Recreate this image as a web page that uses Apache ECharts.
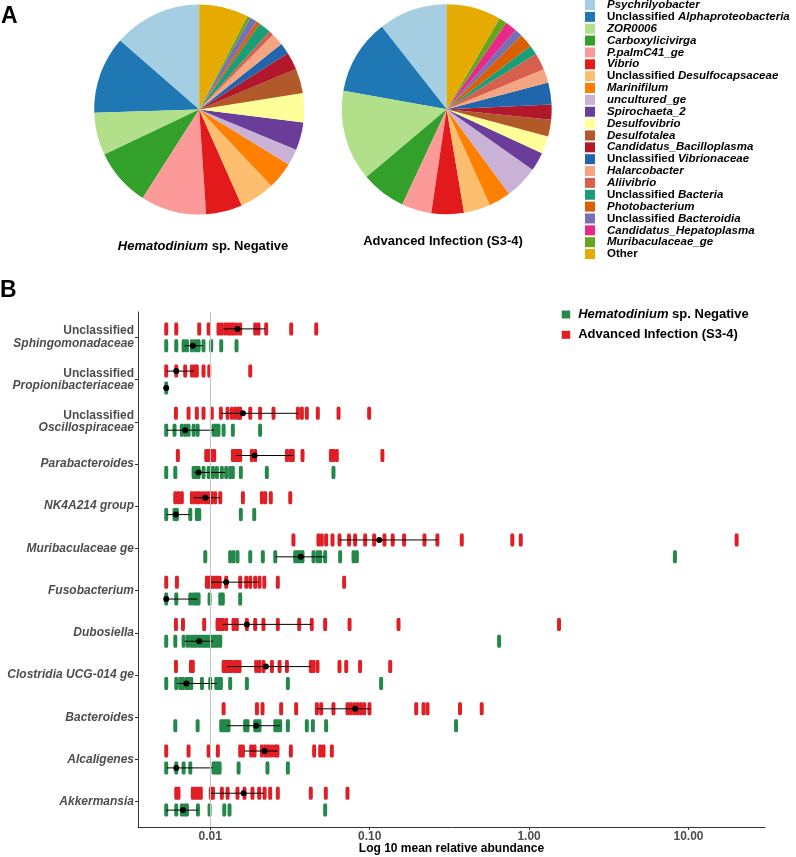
<!DOCTYPE html>
<html>
<head>
<meta charset="utf-8">
<script src="https://cdn.jsdelivr.net/npm/echarts@6/dist/echarts.min.js"></script>
<style>
  html, body { margin: 0; padding: 0; background: #fff; }
  #chart { width: 796px; height: 857px; }
</style>
</head>
<body>
<div id="chart"></div>
<script>
// ---- panel A: genus composition (percent of reads) ----
const taxa = [
  "Psychrilyobacter", "Unclassified Alphaproteobacteria", "ZOR0006", "Carboxylicivirga",
  "P.palmC41_ge", "Vibrio", "Unclassified Desulfocapsaceae", "Marinifilum",
  "uncultured_ge", "Spirochaeta_2", "Desulfovibrio", "Desulfotalea",
  "Candidatus_Bacilloplasma", "Unclassified Vibrionaceae", "Halarcobacter", "Aliivibrio",
  "Unclassified Bacteria", "Photobacterium", "Unclassified Bacteroidia",
  "Candidatus_Hepatoplasma", "Muribaculaceae_ge", "Other"
];
const taxaColors = [
  "#A6CEE3", "#1F78B4", "#B2DF8A", "#33A02C", "#FB9A99", "#E31A1C", "#FDBF6F", "#FF7F00",
  "#CAB2D6", "#6A3D9A", "#FFFF99", "#B15928", "#B2182B", "#2166AC", "#F4A582", "#D6604D",
  "#1B9E77", "#D95F02", "#7570B3", "#E7298A", "#66A61E", "#E6AB02"
];
const negativeShare = [13.6, 11.9, 6.6, 8.9, 10.1, 5.6, 5.4, 4.2, 2.5, 4.3, 4.5, 3.8,
  2.7, 1.7, 1.9, 0.7, 1.9, 0.6, 1.1, 0, 0.5, 7.6];
const advancedShare = [10.6, 11.6, 14.0, 6.9, 4.6, 5.0, 4.1, 3.4, 5.1, 2.9, 2.7, 2.6,
  2.3, 3.4, 2.1, 2.6, 1.5, 2.1, 1.2, 1.8, 1.2, 8.4];

// ---- panel B: log10 mean relative abundance per sample ----
const categories = [
  "Unclassified Sphingomonadaceae", "Unclassified Propionibacteriaceae",
  "Unclassified Oscillospiraceae", "Parabacteroides", "NK4A214 group",
  "Muribaculaceae ge", "Fusobacterium", "Dubosiella", "Clostridia UCG-014 ge",
  "Bacteroides", "Alcaligenes", "Akkermansia"
];

const sphingomonadaceaeAdv = [-2.276, -2.213, -2.069, -2.010, -1.948, -1.927, -1.906, -1.885, -1.870, -1.854, -1.833, -1.812, -1.718, -1.697, -1.649, -1.492, -1.335];
const sphingomonadaceaeNeg = [-2.276, -2.213, -2.167, -2.146, -2.115, -2.094, -2.073, -2.042, -1.994, -1.931, -1.835];
const propionibacteriaceaeAdv = [-2.276, -2.213, -2.157, -2.115, -2.098, -2.084, -2.042, -2.006, -1.749];
const propionibacteriaceaeNeg = [-2.276];
const oscillospiraceaeAdv = [-2.215, -2.136, -2.084, -2.042, -1.990, -1.933, -1.891, -1.864, -1.843, -1.822, -1.812, -1.749, -1.687, -1.603, -1.450, -1.425, -1.394, -1.325, -1.195, -1.003];
const oscillospiraceaeNeg = [-2.276, -2.224, -2.178, -2.157, -2.136, -2.104, -2.079, -1.979, -1.962, -1.948, -1.916, -1.858, -1.687];
const parabacteroidesAdv = [-2.203, -2.025, -2.010, -1.990, -1.975, -1.858, -1.843, -1.827, -1.812, -1.739, -1.718, -1.519, -1.498, -1.482, -1.421, -1.243, -1.227, -1.206, -0.920];
const parabacteroidesNeg = [-2.276, -2.219, -2.104, -2.088, -2.073, -2.042, -2.010, -1.983, -1.958, -1.927, -1.900, -1.875, -1.858, -1.808, -1.645, -1.227];
const nk4a214Adv = [-2.219, -2.199, -2.178, -2.115, -2.094, -2.073, -2.052, -2.031, -2.010, -1.990, -1.969, -1.937, -1.795, -1.676, -1.655, -1.620, -1.498];
const nk4a214Neg = [-2.276, -2.224, -2.209, -2.125, -2.084, -2.069, -1.808, -1.724];
const muribaculaceaeAdv = [-1.478, -1.321, -1.300, -1.273, -1.233, -1.189, -1.129, -1.091, -1.028, -0.972, -0.907, -0.855, -0.784, -0.656, -0.575, -0.422, -0.105, -0.052, 1.302];
const muribaculaceaeNeg = [-2.031, -1.875, -1.854, -1.829, -1.749, -1.670, -1.592, -1.467, -1.452, -1.436, -1.421, -1.352, -1.327, -1.310, -1.279, -1.185, -1.101, -1.080, 0.915];
const fusobacteriumAdv = [-2.276, -2.209, -2.021, -2.004, -1.990, -1.975, -1.958, -1.941, -1.900, -1.812, -1.774, -1.749, -1.718, -1.691, -1.661, -1.576, -1.160];
const fusobacteriumNeg = [-2.276, -2.213, -2.125, -2.104, -2.088, -2.073, -2.004, -1.937, -1.921, -1.812];
const dubosiellaAdv = [-2.215, -2.171, -2.038, -1.954, -1.937, -1.921, -1.900, -1.854, -1.833, -1.770, -1.718, -1.666, -1.576, -1.442, -1.363, -1.279, -1.126, -0.819, 0.188];
const dubosiellaNeg = [-2.276, -2.219, -2.167, -2.142, -2.121, -2.104, -2.088, -2.069, -2.052, -2.036, -2.021, -2.004, -1.987, -1.971, -1.954, -1.937, -0.188];
const clostridiaAdv = [-2.215, -2.121, -2.109, -1.916, -1.900, -1.885, -1.870, -1.850, -1.833, -1.816, -1.712, -1.691, -1.666, -1.613, -1.565, -1.519, -1.369, -1.352, -1.327, -1.189, -1.147, -1.060, -0.871];
const clostridiaNeg = [-2.276, -2.213, -2.188, -2.171, -2.150, -2.136, -2.119, -2.052, -2.000, -1.962, -1.946, -1.933, -1.875, -1.770, -1.513, -0.928];
const bacteroidesAdv = [-1.916, -1.707, -1.672, -1.555, -1.461, -1.331, -1.304, -1.227, -1.139, -1.118, -1.097, -1.076, -1.055, -1.034, -1.001, -0.708, -0.662, -0.637, -0.433, -0.297];
const bacteroidesNeg = [-2.219, -2.079, -1.931, -1.916, -1.900, -1.885, -1.781, -1.766, -1.718, -1.703, -1.691, -1.592, -1.578, -1.561, -1.513, -1.394, -1.356, -1.273, -0.458];
const alcaligenesAdv = [-2.276, -2.136, -2.010, -1.952, -1.812, -1.795, -1.743, -1.722, -1.676, -1.655, -1.634, -1.613, -1.592, -1.578, -1.494, -1.348, -1.310, -1.289, -1.237];
const alcaligenesNeg = [-2.276, -2.213, -2.167, -2.125, -1.979, -1.967, -1.954, -1.941, -1.822, -1.641, -1.513];
const akkermansiaAdv = [-2.213, -2.199, -2.109, -2.092, -2.075, -2.059, -1.996, -1.983, -1.927, -1.891, -1.829, -1.785, -1.735, -1.693, -1.659, -1.624, -1.576, -1.369, -1.275, -1.139];
const akkermansiaNeg = [-2.276, -2.213, -2.178, -2.161, -2.146, -2.077, -2.004, -1.912, -1.879, -1.279];

// summary dot + bar per category (same order as categories)
const advCenter = [-1.829, -2.213, -1.795, -1.722, -2.031, -0.940, -1.900, -1.770, -1.651, -1.091, -1.659, -1.791];
const advLow = [-1.916, -2.272, -1.933, -1.837, -2.104, -1.189, -1.996, -1.921, -1.891, -1.331, -1.787, -2.000];
const advHigh = [-1.655, -2.104, -1.450, -1.478, -1.937, -0.575, -1.697, -1.363, -1.369, -0.997, -1.578, -1.666];
const negCenter = [-2.109, -2.276, -2.157, -2.073, -2.215, -1.432, -2.276, -2.069, -2.150, -1.712, -2.213, -2.171];
const negLow = [-2.161, -2.276, -2.272, -2.098, -2.272, -1.592, -2.276, -2.161, -2.209, -1.896, -2.272, -2.276];
const negHigh = [-2.048, -2.276, -1.975, -1.906, -2.130, -1.279, -2.079, -1.983, -1.958, -1.561, -1.983, -2.077];

const xTicks = [-2, -1, 0, 1];

const advRows = [sphingomonadaceaeAdv, propionibacteriaceaeAdv, oscillospiraceaeAdv, parabacteroidesAdv,
  nk4a214Adv, muribaculaceaeAdv, fusobacteriumAdv, dubosiellaAdv, clostridiaAdv, bacteroidesAdv,
  alcaligenesAdv, akkermansiaAdv];
const negRows = [sphingomonadaceaeNeg, propionibacteriaceaeNeg, oscillospiraceaeNeg, parabacteroidesNeg,
  nk4a214Neg, muribaculaceaeNeg, fusobacteriumNeg, dubosiellaNeg, clostridiaNeg, bacteroidesNeg,
  alcaligenesNeg, akkermansiaNeg];

const FONT = "Liberation Sans, Arial, Helvetica, sans-serif";
const RED = "#DF1F25";
const GREEN = "#24884A";
const OFF = 0.2; // red row above, green row below the category line

// rich label helpers
function taxonLabel(name) {
  if (name === "Other") return "{n|Other}";
  if (name.startsWith("Unclassified ")) return "{n|Unclassified }{i|" + name.slice(13) + "}";
  return "{i|" + name + "}";
}
function yLabel(name) {
  if (name.startsWith("Unclassified ")) return "{n|Unclassified}\n{i|" + name.slice(13) + "}";
  return "{i|" + name + "}";
}

const points = (rows, dy) => {
  const out = [];
  rows.forEach((row, i) => row.forEach((v) => out.push([v, i + dy])));
  return out;
};
const bars = (low, high, dy) => low.map((l, i) => [l, high[i], i + dy]);
const dots = (center, dy) => center.map((c, i) => [c, i + dy]);

const errorBar = (params, api) => {
  const a = api.coord([api.value(0), api.value(2)]);
  const b = api.coord([api.value(1), api.value(2)]);
  return {
    type: "line",
    shape: { x1: a[0], y1: a[1], x2: b[0], y2: b[1] },
    style: { stroke: "#000", lineWidth: 1 }
  };
};

const pieData = (share) => taxa.map((t, i) => ({ name: t, value: share[i], itemStyle: { color: taxaColors[i] } }));

const chart = echarts.init(document.getElementById("chart"));

const option = {
  animation: false,
  textStyle: { fontFamily: FONT },
  grid: { left: 138, right: 31, top: 312, bottom: 30, outerBoundsMode: "none" },
  legend: [
    {
      data: taxa,
      orient: "vertical",
      left: 585,
      top: -1,
      padding: 0,
      icon: "rect",
      itemWidth: 10,
      itemHeight: 10,
      itemGap: -0.14,
      selectedMode: false,
      formatter: taxonLabel,
      textStyle: {
        padding: [0, 0, 0, 7],
        lineHeight: 10,
        rich: {
          n: { fontFamily: FONT, fontSize: 11.5, fontWeight: "bold", color: "#000", lineHeight: 10 },
          i: { fontFamily: FONT, fontSize: 11.5, fontWeight: "bold", fontStyle: "italic", color: "#000", lineHeight: 10 }
        }
      }
    },
    {
      data: ["Hematodinium sp. Negative", "Advanced Infection (S3-4)"],
      orient: "vertical",
      left: 561.7,
      top: 308,
      padding: 0,
      icon: "rect",
      itemWidth: 8.5,
      itemHeight: 8,
      itemGap: 7.3,
      selectedMode: false,
      formatter: (name) => name.startsWith("Hematodinium")
        ? "{i|Hematodinium}{n| sp. Negative}" : "{n|" + name + "}",
      textStyle: {
        padding: [0, 0, 0, 3],
        lineHeight: 13,
        rich: {
          n: { fontFamily: FONT, fontSize: 13, fontWeight: "bold", color: "#000", lineHeight: 13 },
          i: { fontFamily: FONT, fontSize: 13, fontWeight: "bold", fontStyle: "italic", color: "#000", lineHeight: 13 }
        }
      }
    }
  ],
  graphic: [
    { type: "text", left: 1, top: 5, style: { text: "A", font: "bold 23px " + FONT, fill: "#000" } },
    { type: "text", left: 0, top: 279, style: { text: "B", font: "bold 23px " + FONT, fill: "#000" } },
    {
      type: "text", x: 203, y: 246,
      style: {
        text: "{i|Hematodinium}{n| sp. Negative}", align: "center", verticalAlign: "middle",
        rich: {
          n: { fontFamily: FONT, fontSize: 13, fontWeight: "bold", fill: "#000" },
          i: { fontFamily: FONT, fontSize: 13, fontWeight: "bold", fontStyle: "italic", fill: "#000" }
        }
      }
    },
    {
      type: "text", x: 443, y: 241,
      style: { text: "Advanced Infection (S3-4)", align: "center", verticalAlign: "middle",
        font: "bold 13px " + FONT, fill: "#000" }
    },
    {
      // x-axis title
      type: "text", x: 451.5, y: 849,
      style: { text: "Log 10 mean relative abundance", align: "center", verticalAlign: "middle",
        font: "bold 12px " + FONT, fill: "#000" }
    }
  ],
  xAxis: {
    type: "value",
    min: -2.453,
    max: 1.48,
    axisLine: { show: true, onZero: false, lineStyle: { color: "#333", width: 1 } },
    axisTick: { show: true, length: 3, customValues: xTicks, lineStyle: { color: "#333" } },
    axisLabel: {
      customValues: xTicks,
      formatter: (v) => Math.pow(10, v).toFixed(2),
      fontFamily: FONT, fontSize: 12, fontWeight: "bold", color: "#4D4D4D", margin: 4
    },
    splitLine: { show: false }
  },
  yAxis: {
    type: "value",
    inverse: true,
    min: -0.6,
    max: 11.6,
    axisLine: { show: true, onZero: false, lineStyle: { color: "#333", width: 1 } },
    axisTick: { show: true, length: 3, customValues: categories.map((c, i) => i), lineStyle: { color: "#333" } },
    axisLabel: {
      customValues: categories.map((c, i) => i),
      formatter: (v) => yLabel(categories[Math.round(v)]),
      margin: 4,
      rich: {
        n: { fontFamily: FONT, fontSize: 12, fontWeight: "bold", color: "#4D4D4D", lineHeight: 12.4, align: "right" },
        i: { fontFamily: FONT, fontSize: 12, fontWeight: "bold", fontStyle: "italic", color: "#4D4D4D", lineHeight: 12.4, align: "right" }
      }
    },
    splitLine: { show: false }
  },
  series: [
    {
      type: "pie",
      name: "negPie",
      center: [199.2, 109.5],
      radius: [0, 105],
      startAngle: 90,
      clockwise: false,
      label: { show: false },
      labelLine: { show: false },
      emphasis: { disabled: true },
      itemStyle: { borderWidth: 0 },
      data: pieData(negativeShare)
    },
    {
      type: "pie",
      name: "advPie",
      center: [446.7, 109.3],
      radius: [0, 105],
      startAngle: 90,
      clockwise: false,
      label: { show: false },
      labelLine: { show: false },
      emphasis: { disabled: true },
      itemStyle: { borderWidth: 0 },
      data: pieData(advancedShare)
    },
    {
      // reference line at 0.01
      type: "scatter",
      data: [],
      z: 1,
      silent: true,
      markLine: {
        silent: true,
        symbol: ["none", "none"],
        label: { show: false },
        lineStyle: { color: "#C4C4C4", type: "solid", width: 1 },
        data: [{ xAxis: -2 }]
      }
    },
    {
      type: "scatter",
      name: "Hematodinium sp. Negative",
      symbol: "roundRect",
      symbolSize: [4, 13],
      itemStyle: { color: GREEN, opacity: 1 },
      z: 2,
      data: points(negRows, OFF)
    },
    {
      type: "scatter",
      name: "Advanced Infection (S3-4)",
      symbol: "roundRect",
      symbolSize: [4, 13],
      itemStyle: { color: RED, opacity: 1 },
      z: 2,
      data: points(advRows, -OFF)
    },
    {
      type: "custom",
      renderItem: errorBar,
      encode: { x: [0, 1], y: 2 },
      z: 3,
      silent: true,
      data: bars(negLow, negHigh, OFF).concat(bars(advLow, advHigh, -OFF))
    },
    {
      type: "scatter",
      symbol: "circle",
      symbolSize: 6,
      itemStyle: { color: "#000", opacity: 1 },
      z: 4,
      silent: true,
      data: dots(negCenter, OFF).concat(dots(advCenter, -OFF))
    }
  ]
};

chart.setOption(option);
</script>
</body>
</html>
